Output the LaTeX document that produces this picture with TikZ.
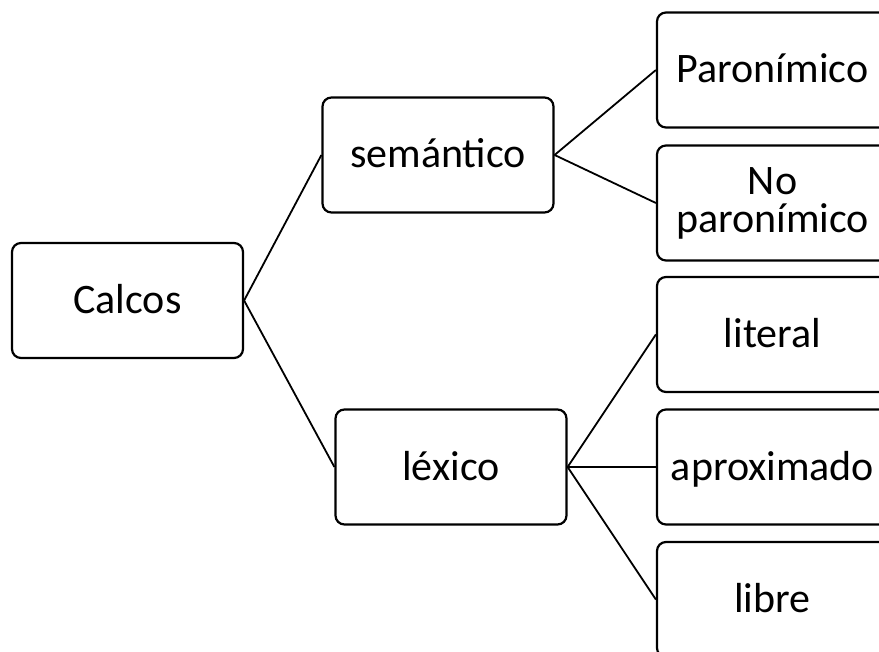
\documentclass[tikz,border=0pt]{standalone}
\usepackage{fontspec}
\setmainfont{Carlito}
\begin{document}
\begin{tikzpicture}[x=1pt,y=-1pt,
  box/.style={draw=black,line width=2.2pt,rounded corners=9pt,
    minimum width=231pt,minimum height=115pt,inner sep=0pt,
    font=\fontsize{42}{38}\selectfont,align=center,
    text height=26pt,text depth=0pt},
  conn/.style={draw=black,line width=1.8pt}]
\useasboundingbox (0,0) rectangle (879,652);
\clip (0,0) rectangle (879,652);
\node[box] (calcos) at (127.5,300.5) {Calcos};
\node[box] (sem) at (438,155) {semántico};
\node[box] (lex) at (451,467) {léxico};
\node[box] (paro) at (772.5,70) {Paronímico};
\node[box,text height={},text depth={}] (nopa) at (772.5,203) {No\\paronímico};
\node[box] (lit) at (772.5,334.5) {literal};
\node[box] (apro) at (772.5,467) {aproximado};
\node[box] (lib) at (772.5,599.5) {libre};
\draw[conn] (calcos.east) -- (sem.west);
\draw[conn] (calcos.east) -- (lex.west);
\draw[conn] (sem.east) -- (paro.west);
\draw[conn] (sem.east) -- (nopa.west);
\draw[conn] (lex.east) -- (lit.west);
\draw[conn] (lex.east) -- (apro.west);
\draw[conn] (lex.east) -- (lib.west);
\end{tikzpicture}
\end{document}
